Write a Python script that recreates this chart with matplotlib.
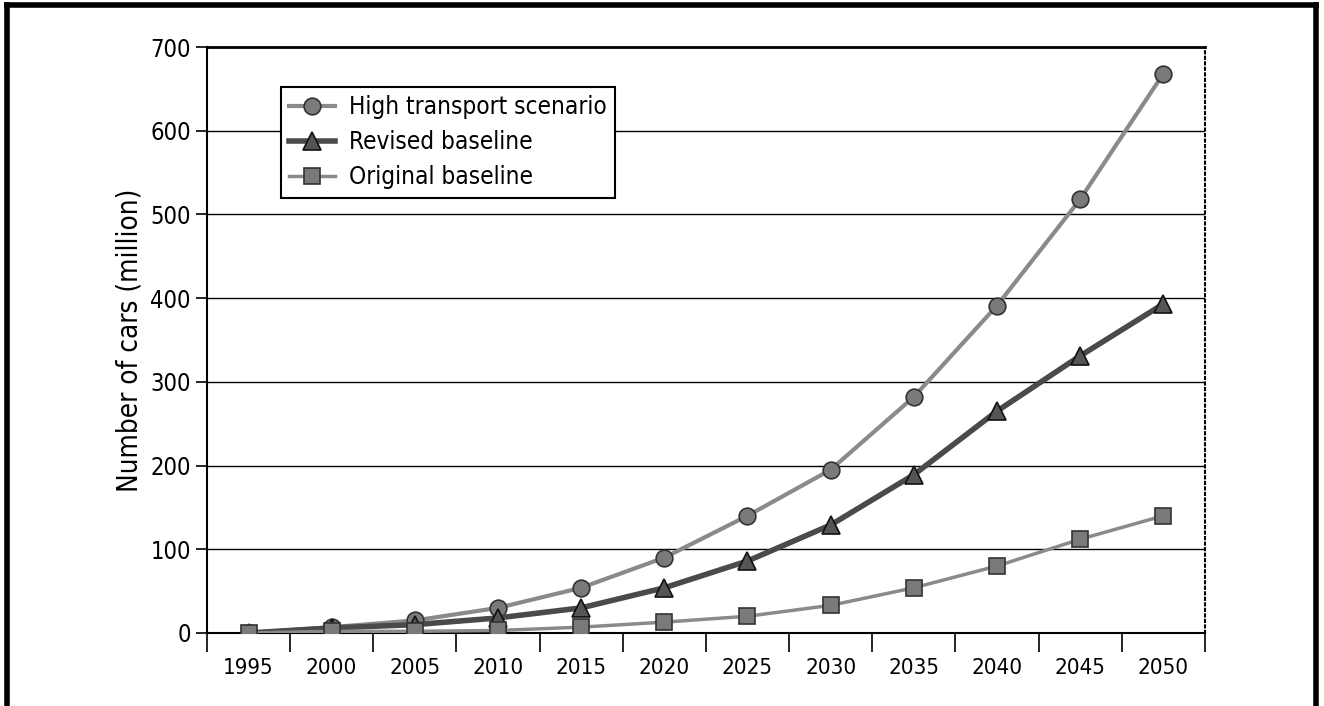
import matplotlib
matplotlib.use('Agg')
import matplotlib.pyplot as plt
from matplotlib.lines import Line2D

plt.rcParams['font.family'] = ['DejaVu Sans']
plt.rcParams['font.stretch'] = 'condensed'

anos = ['1995', '2000', '2005', '2010', '2015', '2020', '2025', '2030', '2035', '2040', '2045', '2050']
alto_transporte = [0, 7, 15, 30, 54, 90, 140, 195, 282, 391, 518, 668]
base_revisada = [0, 6, 10, 18, 30, 54, 86, 129, 189, 265, 331, 393]
base_original = [0, 2, 2, 3, 7, 13, 20, 33, 54, 80, 112, 140]

fig = plt.figure(figsize=(13.24, 7.06), dpi=100)
ax = fig.add_axes([0.1563, 0.1034, 0.7537, 0.83])

x = list(range(len(anos)))
ax.plot(x, alto_transporte, color='#8a8a8a', lw=3, marker='o', ms=12,
        mfc='#7a7a7a', mec='#333333', mew=1.2, label='High transport scenario', zorder=4)
ax.plot(x, base_revisada, color='#4a4a4a', lw=4, marker='^', ms=13,
        mfc='#555555', mec='#111111', mew=1.2, label='Revised baseline', zorder=4)
ax.plot(x, base_original, color='#8a8a8a', lw=2.5, marker='s', ms=12,
        mfc='#7a7a7a', mec='#333333', mew=1.2, label='Original baseline', zorder=4)

ax.set_xlim(-0.5, len(anos) - 0.5)
ax.set_ylim(0, 700)
ax.set_yticks(range(0, 701, 100))
ax.yaxis.grid(True, color='black', lw=1)
ax.set_axisbelow(True)

ax.set_xticks([i - 0.5 for i in range(len(anos) + 1)])
ax.set_xticklabels([])
ax.set_xticks(x, minor=True)
ax.set_xticklabels(anos, minor=True, fontsize=16)
ax.tick_params(axis='x', which='major', length=14, width=1.2, direction='out')
ax.tick_params(axis='x', which='minor', length=0, pad=18)
ax.tick_params(axis='y', labelsize=17, length=8, width=1.2)

for s in ax.spines.values():
    s.set_linewidth(1.5)
ax.spines['right'].set_linestyle(':')
ax.spines['top'].set_linewidth(2)

ax.set_ylabel('Number of cars (million)', fontsize=20, labelpad=5)

leg = ax.legend(loc='upper left', bbox_to_anchor=(0.074, 0.932), fontsize=17.5,
                frameon=True, fancybox=False, edgecolor='black', framealpha=1,
                numpoints=1, handlelength=1.9, borderpad=0.35, labelspacing=0.45,
                handletextpad=0.55, borderaxespad=0)
leg.get_frame().set_linewidth(1.5)

# moldura da figura (sem linha inferior)
fig.add_artist(Line2D([0.0053, 0.0053], [0, 0.9929], color='black', lw=4, transform=fig.transFigure))
fig.add_artist(Line2D([0.0053, 0.9937], [0.9929, 0.9929], color='black', lw=4, transform=fig.transFigure))
fig.add_artist(Line2D([0.9937, 0.9937], [0, 0.9929], color='black', lw=4, transform=fig.transFigure))

fig.savefig('out.png', dpi=100)
